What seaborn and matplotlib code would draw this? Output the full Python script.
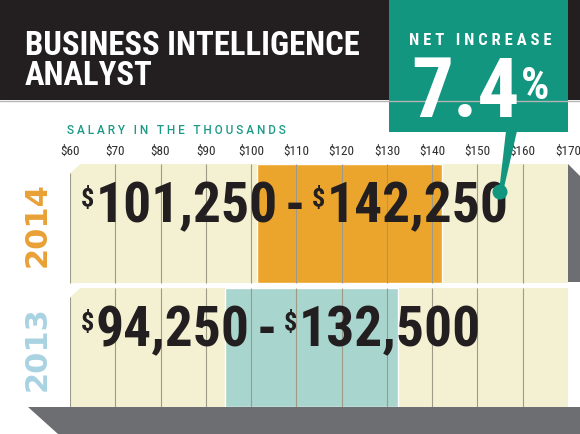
import matplotlib
matplotlib.use("Agg")
import matplotlib.pyplot as plt
import seaborn as sns
from matplotlib.patches import Polygon, Rectangle, Circle

# salary ranges per year (dollars)
years = ["2014", "2013"]
salary_low = [101250, 94250]
salary_high = [142250, 132500]
tick_values = [60, 70, 80, 90, 100, 110, 120, 130, 140, 150, 160, 170]
tick_labels = ["$60", "$70", "$80", "$90", "$100", "$110", "$120", "$130",
               "$140", "$150", "$160", "$170"]
net_increase = 7.4
job_title = ["BUSINESS INTELLIGENCE", "ANALYST"]

BLACK = "#231f20"
TEAL = "#12967f"
ORANGE = "#eca52c"
LIGHT_TEAL = "#a8d5cd"
CREAM = "#f4f0d2"
SHADOW = "#6d6e71"
GRID = "#9d9a88"
year_colors = ["#e9a136", "#a9d3e2"]
bar_colors = [ORANGE, LIGHT_TEAL]

sns.set_theme(style="white")
plt.rcParams['font.family'] = ['Roboto Condensed', 'DejaVu Sans']


def spaced(s):
    # crude letter spacing
    return "   ".join(" ".join(w) for w in s.split(" "))


fig = plt.figure(figsize=(5.8, 4.35), dpi=100)
fig.patch.set_facecolor("white")

# chart axes: x in thousands, y = row index
ax = fig.add_axes([70 / 580, 1 - 408 / 435, 498 / 580, 243 / 435])
ax.set_xlim(60, 170)
ax.set_ylim(1.48, -0.48)
ax.patch.set_alpha(0)
for s in ax.spines.values():
    s.set_visible(False)

half = 0.48
for i in range(len(years)):
    top, bot = i - half, i + half
    ax.add_patch(Polygon([(60, top + 0.075), (62.3, top), (170, top), (170, bot), (60, bot)],
                         closed=True, facecolor=CREAM, edgecolor="none", zorder=0))

lows = [v / 1000 for v in salary_low]
highs = [v / 1000 for v in salary_high]
ax.barh(range(len(years)), [h - l for h, l in zip(highs, lows)], left=lows,
        height=2 * half, color=bar_colors, zorder=1)

for i in range(len(years)):
    ax.vlines(tick_values[1:-1], i - half, i + half, color=GRID, lw=0.8, zorder=2)
    ax.vlines(tick_values[0], i - half + 0.075, i + half, color=GRID, lw=0.8, zorder=2)

ax.xaxis.tick_top()
ax.set_xticks(tick_values)
ax.set_xticklabels(tick_labels, fontsize=9.5, color="#2e2e2e")
ax.tick_params(axis="x", length=0, pad=5)
ax.set_yticks([])

big = dict(fontsize=40, fontweight="bold", color=BLACK)
small = dict(fontsize=19, fontweight="bold", color=BLACK)
for i in range(len(years)):
    n1 = ax.text(65.6, i - 0.015, f"{salary_low[i]:,}", va="baseline", ha="left", **big, zorder=4)
    ax.annotate("$", xy=(0, 1), xycoords=n1, ha="right", va="top",
                xytext=(-1, -4), textcoords="offset points", **small, zorder=4)
    dash = ax.annotate("-", xy=(1, 0), xycoords=n1, ha="left", va="bottom",
                       xytext=(5, 0), textcoords="offset points", **big, zorder=4)
    d2 = ax.annotate("$", xy=(1, 1), xycoords=dash, ha="left", va="top",
                     xytext=(5, -4), textcoords="offset points", **small, zorder=4)
    ax.annotate(f"{salary_high[i]:,}", xy=(1, 0), xycoords=(d2, dash), ha="left",
                va="bottom", xytext=(1, 0), textcoords="offset points", **big, zorder=4)
    ax.text(-0.067, i, years[i], transform=ax.get_yaxis_transform(), rotation=90,
            ha="center", va="center", fontsize=22, fontweight="bold",
            family="DejaVu Sans", color=year_colors[i])

# decoration layer in pixel coordinates, drawn over the chart
bg = fig.add_axes([0, 0, 1, 1], zorder=3)
bg.set_xlim(0, 580)
bg.set_ylim(435, 0)
bg.axis("off")
bg.patch.set_alpha(0)

fig.patches.append(Rectangle((0, 1 - 101 / 435), 1, 101 / 435, transform=fig.transFigure,
                             facecolor=BLACK, edgecolor="none", zorder=-1))
bg.plot([0, 580], [102, 102], color="#b5b5b5", lw=1)
bg.text(25, 55, job_title[0], color="white", fontsize=23.5, fontweight="bold", va="baseline")
bg.text(25, 85, job_title[1], color="white", fontsize=23.5, fontweight="bold", va="baseline")

bg.add_patch(Rectangle((389, 0), 179, 133, facecolor=TEAL, edgecolor="none"))
bg.add_patch(Polygon([(506, 132), (517, 132), (503, 193), (499, 193)], closed=True,
                     facecolor=TEAL, edgecolor="none"))
bg.add_patch(Circle((500, 193), 7.5, facecolor=TEAL, edgecolor="none", zorder=5))
bg.text(480, 45, spaced("NET INCREASE"), color="white", fontsize=12, fontweight="bold",
        ha="center", va="baseline")
pct = bg.text(411, 117, f"{net_increase}", color="white", fontsize=60, fontweight="bold",
              va="baseline")
bg.annotate("%", xy=(1, 1), xycoords=pct, ha="left", va="top", xytext=(1, -8),
            textcoords="offset points", color="white", fontsize=32, fontweight="bold")

bg.text(67, 134, spaced("SALARY IN THE THOUSANDS"), color="#1c9a86",
        fontsize=8.5, fontweight="medium", family="Roboto", va="baseline")

bg.add_patch(Polygon([(568, 165), (580, 177), (580, 283), (568, 283)], closed=True,
                     facecolor=SHADOW, edgecolor="none"))
bg.add_patch(Polygon([(28, 408), (580, 408), (580, 435), (58, 435)], closed=True,
                     facecolor=SHADOW, edgecolor="none"))

fig.savefig("out.png", dpi=100)
